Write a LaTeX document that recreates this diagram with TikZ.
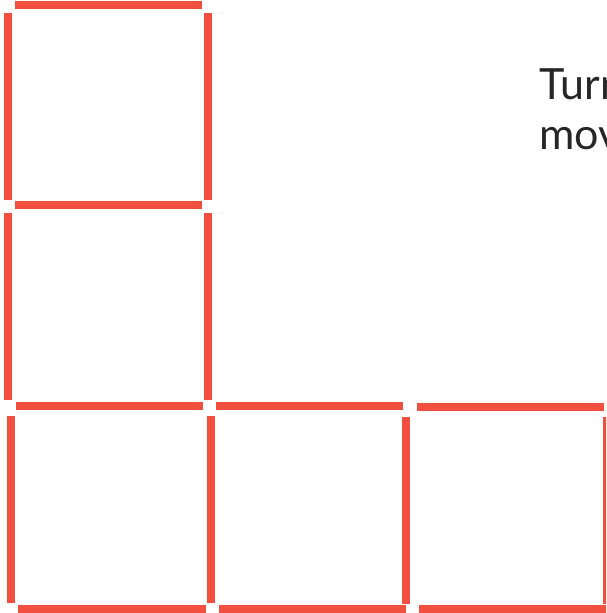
\documentclass[tikz,border=0pt]{standalone}
\usepackage{fontspec}
\setmainfont{Lato}
\definecolor{streichholz}{HTML}{F14F40}

\begin{document}
\begin{tikzpicture}[stick/.style={color=streichholz, line width=4pt}, x=0.5pt, y=-0.5pt,
			zeile/.style={anchor=base west, inner sep=0pt, text=black!85},
			font=\fontsize{21.5}{25}\selectfont]
			%Bildbereich
			\useasboundingbox (0,0) rectangle (606,613);
			\clip (0,0) rectangle (606,613);
			% waagrechte Hoelzer
			\foreach \y/\a/\b in {5/15/202, 205/15/202, 406/16/203, 406/216/403, 407/417/604, 609/18/206, 609/219/406, 609/419/620}
				\draw[stick] (\a,\y) -- (\b,\y);
			% senkrechte Hoelzer
			\foreach \x/\a/\b in {7.5/13/200, 207.5/13/200, 8/213/400, 208/213/400, 11/416/603, 211/416/603, 406/417/604, 607/417/604}
				\draw[stick] (\x,\a) -- (\x,\b);
			% Aufgabentext
			\node[zeile] (zeileA) at (539,100) {Turn};
			\node[zeile] (zeileB) at (539,150) {mov};
		\end{tikzpicture}
\end{document}
